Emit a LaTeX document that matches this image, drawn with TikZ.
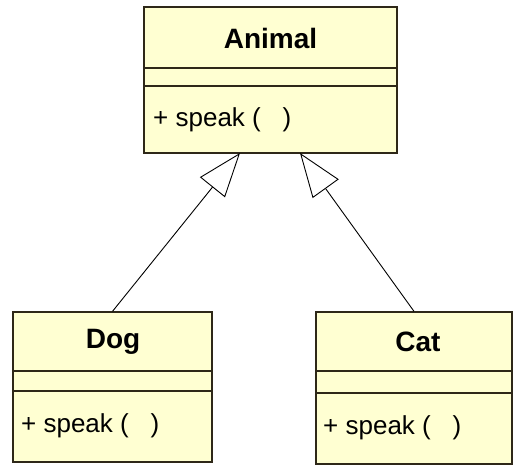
\documentclass[tikz,border=0pt]{standalone}
\usepackage{fontspec}
\setmainfont{Liberation Sans}
\usetikzlibrary{arrows.meta}
\definecolor{boxfill}{HTML}{FFFFD2}
\definecolor{boxline}{HTML}{2E2818}
\tikzset{
  classbox/.style={draw=boxline, fill=boxfill, line width=1.3pt, inner sep=0pt},
  sepline/.style={draw=boxline, line width=1.3pt},
  title/.style={font=\fontsize{28}{30}\selectfont\bfseries, inner sep=0pt},
  method/.style={font=\fontsize{26}{28}\selectfont, anchor=west, inner sep=0pt},
  inherit/.style={draw=black, line width=0.9pt, -{Triangle[open, length=44pt, width=32pt, fill=white]}}
}
\begin{document}
\begin{tikzpicture}[x=1pt, y=-1pt]
\useasboundingbox (0,0) rectangle (514,468);
\fill[white] (0,0) rectangle (514,468);
% Animal
\node[classbox, minimum width=253pt, minimum height=146pt] (animal) at (270.5,80) {};
\draw[sepline] (animal.west |- 0,68) -- (animal.east |- 0,68);
\draw[sepline] (animal.west |- 0,86) -- (animal.east |- 0,86);
\node[title] (animalname) at (270.5,38) {Animal};
\node[method] (animalm) at (153,120) {+ speak (\ \ \ )};
% Dog
\node[classbox, minimum width=199pt, minimum height=150pt] (dog) at (112.5,387) {};
\draw[sepline] (dog.west |- 0,371) -- (dog.east |- 0,371);
\draw[sepline] (dog.west |- 0,391) -- (dog.east |- 0,391);
\node[title] (dogname) at (113,342) {Dog};
\node[method] (dogm) at (21,426) {+ speak (\ \ \ )};
% Cat
\node[classbox, minimum width=196pt, minimum height=152pt] (cat) at (414,388) {};
\draw[sepline] (cat.west |- 0,371) -- (cat.east |- 0,371);
\draw[sepline] (cat.west |- 0,393) -- (cat.east |- 0,393);
\node[title] (catname) at (418,342) {Cat};
\node[method] (catm) at (323,428) {+ speak (\ \ \ )};
% inheritance arrows
\coordinate (tipL) at (240,153);
\coordinate (tipR) at (300,153);
\draw[inherit] (dog.north) -- (tipL);
\draw[inherit] (cat.north) -- (tipR);
\end{tikzpicture}
\end{document}
